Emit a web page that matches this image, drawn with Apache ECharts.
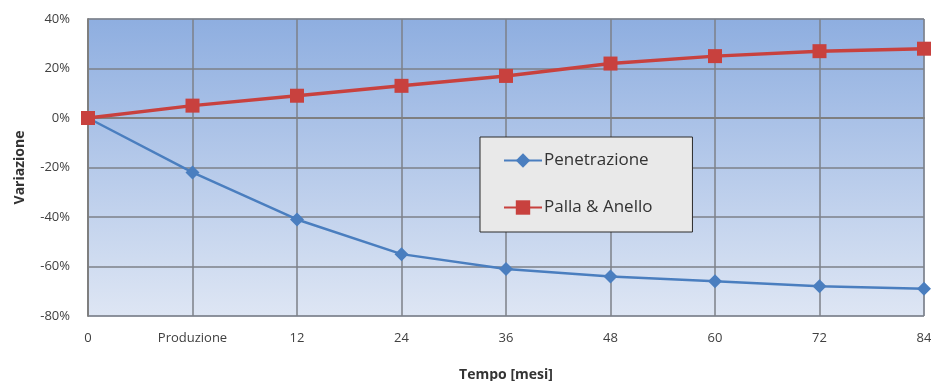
<!DOCTYPE html>
<html>
<head>
<meta charset="utf-8">
<script src="https://cdn.jsdelivr.net/npm/echarts@6/dist/echarts.min.js"></script>
<style>
html,body{margin:0;padding:0;background:#fff;}
#chart{width:931px;height:381px;}
</style>
</head>
<body>
<div id="chart"></div>
<script>
// Time axis categories (months)
const categories = ['0', 'Produzione', '12', '24', '36', '48', '60', '72', '84'];
// Percentage change of each property over time
const penetrazione = [0, -22, -41, -55, -61, -64, -66, -68, -69];
const pallaAnello = [0, 5, 9, 13, 17, 22, 25, 27, 28];

const FONT = '"Open Sans", "Liberation Sans", sans-serif';
const chart = echarts.init(document.getElementById('chart'));

chart.setOption({
  animation: false,
  textStyle: { fontFamily: FONT },
  grid: {
    left: 88, right: 7, top: 19, bottom: 65,
    outerBoundsMode: 'none',
    containLabel: false,
    show: true,
    borderColor: '#8a9bb5',
    borderWidth: 1,
    backgroundColor: new echarts.graphic.LinearGradient(0, 0, 0, 1, [
      { offset: 0, color: '#8eaee0' },
      { offset: 1, color: '#dee6f4' }
    ])
  },
  legend: {
    orient: 'vertical',
    left: 480, top: 137,
    padding: [15, 40, 16, 23],
    itemGap: 30,
    itemWidth: 38, itemHeight: 18,
    backgroundColor: '#e9e9e9',
    borderColor: '#2a2a2a',
    borderWidth: 1,
    textStyle: { fontSize: 17, color: '#333', fontFamily: FONT, padding: [0, 0, 0, -3] },
    data: ['Penetrazione', 'Palla & Anello']
  },
  xAxis: {
    type: 'category',
    data: categories,
    boundaryGap: false,
    name: 'Tempo [mesi]',
    nameLocation: 'middle',
    nameGap: 52,
    nameTextStyle: { fontWeight: 'bold', fontSize: 14, color: '#333' },
    axisLine: { lineStyle: { color: '#7f7f7f', width: 2 } },
    axisTick: { show: false },
    axisLabel: { fontSize: 13, color: '#404040', margin: 16 },
    splitLine: { show: true, lineStyle: { color: '#7c8088', width: 1.5 } }
  },
  yAxis: {
    type: 'value',
    min: -80, max: 40, interval: 20,
    name: 'Variazione',
    nameLocation: 'middle',
    nameGap: 61,
    nameTextStyle: { fontWeight: 'bold', fontSize: 14, color: '#333' },
    axisLine: { show: true, lineStyle: { color: '#7f7f7f', width: 2 } },
    axisTick: { show: false },
    axisLabel: { fontSize: 13, color: '#404040', margin: 18, formatter: '{value}%' },
    splitLine: { show: true, lineStyle: { color: '#7c8088', width: 1.5 } }
  },
  series: [
    {
      name: 'Penetrazione',
      type: 'line',
      data: penetrazione,
      symbol: 'diamond',
      symbolSize: 14,
      color: '#4a7ebf',
      lineStyle: { width: 2.5, color: '#4a7ebf' },
      itemStyle: { color: '#4a7ebf' }
    },
    {
      name: 'Palla & Anello',
      type: 'line',
      data: pallaAnello,
      symbol: 'rect',
      symbolSize: 14,
      color: '#c8413e',
      lineStyle: { width: 3.5, color: '#c8413e' },
      itemStyle: { color: '#c8413e' }
    }
  ]
});
</script>
</body>
</html>
